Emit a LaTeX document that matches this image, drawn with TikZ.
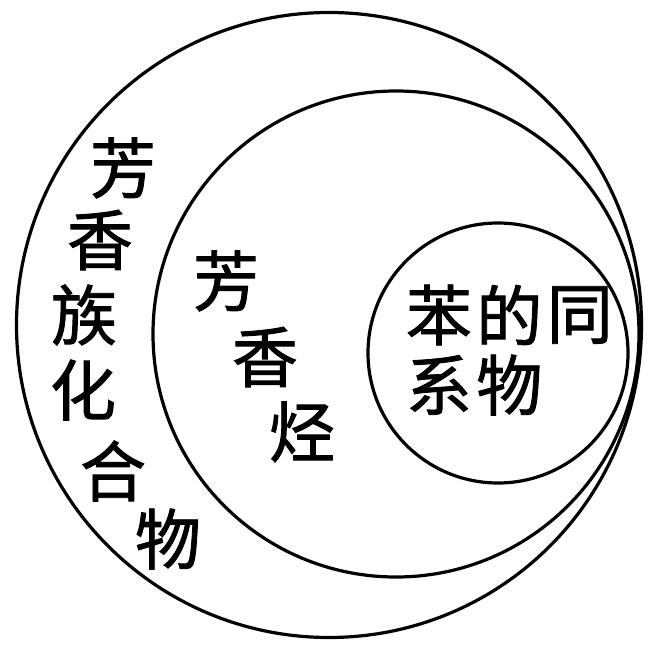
\documentclass[tikz,border=0pt]{standalone}
\usepackage{fontspec}
\newfontfamily\cjk[FakeBold=1.3]{Noto Sans CJK SC}
\usepackage{tikz}
\usetikzlibrary{positioning}
\tikzset{ring/.style={draw,circle,line width=3.2pt,inner sep=0pt}}
\tikzset{zi/.style={inner sep=0pt,font=\cjk\fontsize{66}{70}\selectfont}}

\begin{document}
\begin{tikzpicture}[x=1pt,y=-1pt]
    \useasboundingbox (0,0) rectangle (662,661);
    % circles
    \node (outer) [ring,minimum size=625pt] at (329,325) {};
    \node (mid)   [ring,minimum size=486pt] at (396,334) {};
    \node (inner) [ring,minimum size=260pt] at (498,353) {};

    % outer label, one character per node
    \node (a1) [zi] at (123,168) {芳};
    \node (a2) [zi] at (100,240) {香};
    \node (a3) [zi] at (84,315)  {族};
    \node (a4) [zi] at (83,390)  {化};
    \node (a5) [zi] at (113,471) {合};
    \node (a6) [zi] at (168,539) {物};

    % middle label
    \node (b1) [zi] at (226,281) {芳};
    \node (b2) [zi] at (265,357) {香};
    \node (b3) [zi] at (302,432) {烃};

    % inner label
    \node (c1) [zi] at (439,315) {苯};
    \node (c2) [zi,right=4pt of c1] {的};
    \node (c3) [zi,right=4pt of c2] {同};
    \node (c4) [zi] at (439,385) {系};
    \node (c5) [zi,right=4pt of c4] {物};
\end{tikzpicture}
\end{document}
